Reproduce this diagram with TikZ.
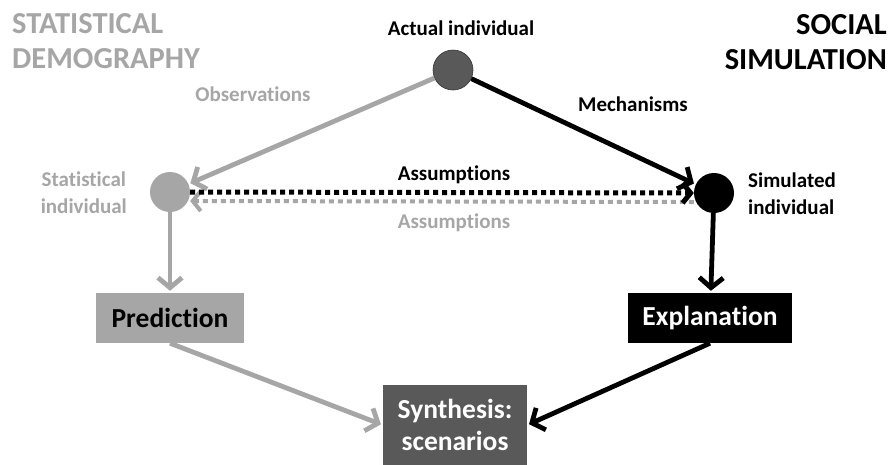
\documentclass[tikz,border=0pt]{standalone}
\usepackage{fontspec}
\setmainfont{Carlito}[Ligatures=CommonOff]
\usetikzlibrary{arrows.meta}
\definecolor{lightgrey}{HTML}{A6A6A6}
\definecolor{darkgrey}{HTML}{595959}
\tikzset{
	lbl/.style={font=\fontsize{21}{27}\selectfont\bfseries, inner sep=0pt},
	headline/.style={font=\fontsize{30.5}{35}\selectfont\bfseries, inner sep=0pt},
	outcome/.style={font=\fontsize{27.5}{32}\selectfont\bfseries, inner sep=0pt, minimum height=50pt},
	indiv/.style={circle, minimum size=40pt, inner sep=0pt},
	flow/.style={line width=4.8pt, -{Straight Barb[length=10pt,width=24pt]}, shorten >=2pt},
	dots/.style={line width=5pt, dash pattern=on 5pt off 4pt, -{Straight Barb[length=8pt,width=20pt]}},
}

\begin{document}
\begin{tikzpicture}[x=1pt, y=-1pt]
		%%%%% START %%%%%
		\useasboundingbox (0, 0) rectangle (893, 464);
		
		\node[headline, lightgrey, anchor=north west, align=left] (statdemo) at (12, 13.5) {STATISTICAL\\DEMOGRAPHY};
		\node[headline, anchor=north east, align=right] (socsim) at (887, 14) {SOCIAL\\SIMULATION};
		
		\node[lbl, anchor=base] (actuallbl) at (461, 35) {Actual individual};
		\node[indiv, fill=darkgrey, draw=black!80, line width=0.6pt] (actual) at (453, 70) {};
		
		\node[indiv, fill=lightgrey] (stat) at (170, 192) {};
		\node[lbl, lightgrey, anchor=north east, align=center] (statlbl) at (127, 171.5) {Statistical\\individual};
		
		\node[indiv, fill=black] (sim) at (714, 193) {};
		\node[lbl, anchor=north west, align=left] (simlbl) at (748, 173) {Simulated\\individual};
		
		\node[lbl, lightgrey, anchor=base] (obslbl) at (253, 101) {Observations};
		\node[lbl, anchor=base] (mechlbl) at (633, 111) {Mechanisms};
		\node[lbl, anchor=base] (assumpup) at (454, 180) {Assumptions};
		\node[lbl, lightgrey, anchor=base] (assumpdown) at (454, 228) {Assumptions};
		
		\node[outcome, fill=lightgrey, minimum width=148pt] (pred) at (170, 318) {Prediction};
		\node[outcome, fill=black, text=white, minimum width=164pt] (expl) at (710, 318) {Explanation};
		\node[outcome, fill=darkgrey, text=white, align=center, minimum width=144pt, minimum height=80pt] (synth) at (455, 425) {Synthesis:\\scenarios};
		
		\draw[flow, lightgrey] (actual) -- (stat);
		\draw[flow, black] (actual) -- (sim);
		
		\draw[dots, line width=4pt, lightgrey] ([yshift=-9pt]sim.west) -- ([yshift=-9pt]stat.east);
		\draw[dots, black] (stat.east) -- (sim.west);
		
		\draw[flow, lightgrey] (stat) -- (pred);
		\draw[flow, black] (sim) -- (expl);
		
		\draw[flow, lightgrey] (pred.south) -- (synth.west);
		\draw[flow, black] (expl.south) -- (synth.east);
		
		%%%%% END %%%%%
\end{tikzpicture}
\end{document}
